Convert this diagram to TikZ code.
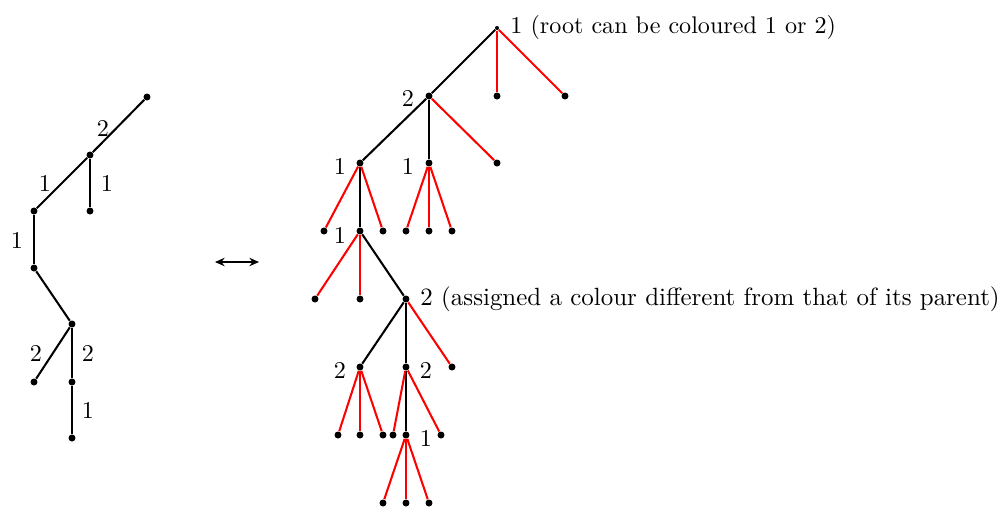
\documentclass[tikz,border=0pt]{standalone}
\usetikzlibrary{arrows.meta}
\begin{document}
\begin{tikzpicture}[x=0.415pt,y=-0.415pt,
  dot/.style={circle,fill=black,inner sep=0pt,minimum size=2.9pt},
  rootdot/.style={circle,fill=black,inner sep=0pt,minimum size=1.7pt},
  lbl/.style={inner sep=0pt,font=\normalsize},
  blk/.style={draw=black,line width=0.85pt},
  red/.style={draw={rgb,255:red,255;green,0;blue,0},line width=0.85pt}]
\useasboundingbox (0,0) rectangle (1002,507);
% ---------- left tree ----------
\node[dot] (l1) at (147,97) {};
\node[dot] (l2) at (90,155) {};
\node[dot] (l3) at (90,211) {};
\node[dot] (l4) at (34,211) {};
\node[dot] (l5) at (34,268) {};
\node[dot] (l6) at (72,324) {};
\node[dot] (l7) at (34,382) {};
\node[dot] (l8) at (72,382) {};
\node[dot] (l9) at (72,438) {};
\draw[blk] (l1) -- (l2);
\draw[blk] (l2) -- (l3);
\draw[blk] (l2) -- (l4);
\draw[blk] (l4) -- (l5);
\draw[blk] (l5) -- (l6);
\draw[blk] (l6) -- (l7);
\draw[blk] (l6) -- (l8);
\draw[blk] (l8) -- (l9);
\node[lbl] (e1) at (103,128) {2};
\node[lbl] (e2) at (45,183) {1};
\node[lbl] (e3) at (107,183) {1};
\node[lbl] (e4) at (17,240) {1};
\node[lbl] (e5) at (36,353) {2};
\node[lbl] (e6) at (88,353) {2};
\node[lbl] (e7) at (88,410) {1};
% ---------- arrow ----------
\coordinate (aL) at (215,262);
\coordinate (aR) at (259,262);
\draw[line width=0.55pt,{Stealth[length=4pt,width=3.5pt]}-{Stealth[length=4pt,width=3.5pt]}] (aL) -- (aR);
% ---------- right tree ----------
\node[rootdot] (R) at (497,28) {};
\node[dot] (A) at (429,96) {};
\node[dot] (r1) at (497,96) {};
\node[dot] (r2) at (565,96) {};
\node[dot] (B) at (360,163) {};
\node[dot] (C) at (429,163) {};
\node[dot] (a1) at (497,163) {};
\node[dot] (b1) at (324,231) {};
\node[dot] (D) at (360,231) {};
\node[dot] (b2) at (383,231) {};
\node[dot] (c1) at (406,231) {};
\node[dot] (c2) at (429,231) {};
\node[dot] (c3) at (452,231) {};
\node[dot] (d1) at (315,299) {};
\node[dot] (d2) at (360,299) {};
\node[dot] (E) at (406,299) {};
\node[dot] (F) at (360,367) {};
\node[dot] (G) at (406,367) {};
\node[dot] (e9) at (452,367) {};
\node[dot] (f1) at (338,435) {};
\node[dot] (f2) at (360,435) {};
\node[dot] (f3) at (383,435) {};
\node[dot] (g1) at (393,435) {};
\node[dot] (H) at (406,435) {};
\node[dot] (g2) at (441,435) {};
\node[dot] (h1) at (383,503) {};
\node[dot] (h2) at (406,503) {};
\node[dot] (h3) at (429,503) {};
% black edges
\draw[blk] (R) -- (A);
\draw[blk] (A) -- (B);
\draw[blk] (A) -- (C);
\draw[blk] (B) -- (D);
\draw[blk] (D) -- (E);
\draw[blk] (E) -- (F);
\draw[blk] (E) -- (G);
\draw[blk] (G) -- (H);
% red edges
\draw[red] (R) -- (r1);
\draw[red] (R) -- (r2);
\draw[red] (A) -- (a1);
\draw[red] (B) -- (b1);
\draw[red] (B) -- (b2);
\draw[red] (C) -- (c1);
\draw[red] (C) -- (c2);
\draw[red] (C) -- (c3);
\draw[red] (D) -- (d1);
\draw[red] (D) -- (d2);
\draw[red] (E) -- (e9);
\draw[red] (F) -- (f1);
\draw[red] (F) -- (f2);
\draw[red] (F) -- (f3);
\draw[red] (G) -- (g1);
\draw[red] (G) -- (g2);
\draw[red] (H) -- (h1);
\draw[red] (H) -- (h2);
\draw[red] (H) -- (h3);
% labels
\node[lbl,anchor=west] (tR) at (510,27) {1 (root can be coloured 1 or 2)};
\node[lbl] (tA) at (408,98) {2};
\node[lbl] (tB) at (340,166) {1};
\node[lbl] (tC) at (408,166) {1};
\node[lbl] (tD) at (340,235) {1};
\node[lbl,anchor=west,font=\fontsize{10.35}{12}\selectfont] (tE) at (420,299) {2 (assigned a colour different from that of its parent)};
\node[lbl] (tF) at (340,370) {2};
\node[lbl] (tG) at (426,370) {2};
\node[lbl] (tH) at (426,438) {1};
\end{tikzpicture}
\end{document}
